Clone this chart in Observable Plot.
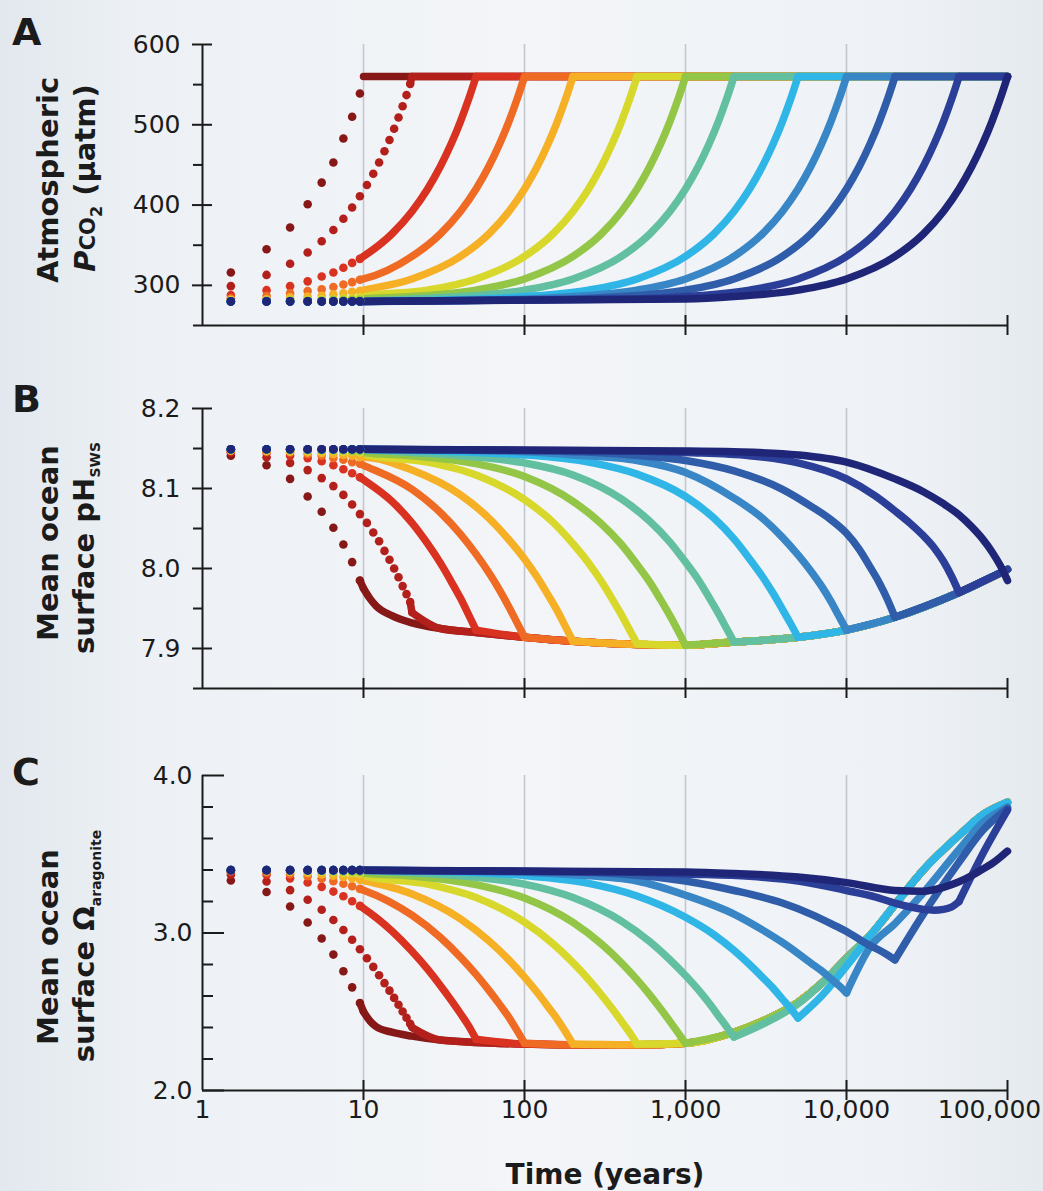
<!DOCTYPE html>
<html>
<head>
<meta charset="utf-8">
<script src="https://cdn.jsdelivr.net/npm/d3@7"></script>
<script src="https://cdn.jsdelivr.net/npm/@observablehq/plot@0.6"></script>
<style>
  body { margin: 0; background: #edf1f5; }
  #chart { position: relative; width: 1043px; height: 1191px;
    background: linear-gradient(90deg, #e2e8ee 0%, #edf1f5 14%, #f3f5f8 50%, #eef2f6 86%, #e5eaef 100%); }
  #chart svg { display: block; }
</style>
</head>
<body>
<div id="chart"></div>
<script>
const _ = null;

// Duration (years) of the CO2 doubling in each run, and its colour
const durations = [10, 20, 50, 100, 200, 500, 1000, 2000, 5000, 10000, 20000, 50000, 100000];
const colors = ["#861817", "#b3201c", "#d93221", "#ef6b24", "#f6b026", "#d8d82c", "#93c646",
                "#62c0a0", "#2fb6e6", "#3886c6", "#2f5da9", "#2b3f99", "#1f2677"];

// Annual sample years drawn as separate dots
const dotYears = [1.5, 2.5, 3.5, 4.5, 5.5, 6.5, 7.5, 8.5, 9.5];
const extraYears = [10.5, 11.5, 12.5, 13.5, 14.5, 15.5, 16.5, 17.5, 18.5, 19.5]; // 20-yr run
// Fractions of each run's duration at which the ramp was read
const fracs = [0.01, 0.02, 0.05, 0.1, 0.2, 0.3, 0.4, 0.5, 0.6, 0.7, 0.8, 0.9, 1.0];
const gridYears = [10, 100, 1000, 10000];

// ---------- Panel A: atmospheric pCO2 (µatm) ----------
const pco2Dots = [
  [316, 345, 372, 401, 428, 453, 483, 510, 539],
  [299, 313, 327, 341, 355, 369, 383, 397, 411],
  [288, 294, 299, 305, 311, 316, 322, 328, 333],
  [284, 287, 290, 293, 295, 298, 301, 304, 307],
  [282, 283, 285, 286, 287, 289, 290, 292, 293],
  [281, 281, 282, 282, 283, 283, 284, 284, 285],
  [280, 281, 281, 281, 281, 282, 282, 282, 282],
  [280, 280, 280, 280, 280, 280, 280, 280, 280],
  [280, 280, 280, 280, 280, 280, 280, 280, 280],
  [280, 280, 280, 280, 280, 280, 280, 280, 280],
  [280, 280, 280, 280, 280, 280, 280, 280, 280],
  [280, 280, 280, 280, 280, 280, 280, 280, 280],
  [280, 280, 280, 280, 280, 280, 280, 280, 280]
];
const pco2Extra = [425, 439, 453, 467, 481, 495, 509, 523, 537, 551];
const pco2Ramp = [
  [_, _, _, _, _, _, _, _, _, _, _, _, 560],
  [_, _, _, _, _, _, _, _, _, _, _, _, 560],
  [_, _, _, _, 336, 364, 392, 420, 448, 476, 504, 532, 560],
  [_, _, _, 308, 336, 364, 392, 420, 448, 476, 504, 532, 560],
  [_, _, 294, 308, 336, 364, 392, 420, 448, 476, 504, 532, 560],
  [_, 286, 294, 308, 336, 364, 392, 420, 448, 476, 504, 532, 560],
  [283, 286, 294, 308, 336, 364, 392, 420, 448, 476, 504, 532, 560],
  [283, 286, 294, 308, 336, 364, 392, 420, 448, 476, 504, 532, 560],
  [283, 286, 294, 308, 336, 364, 392, 420, 448, 476, 504, 532, 560],
  [283, 286, 294, 308, 336, 364, 392, 420, 448, 476, 504, 532, 560],
  [283, 286, 294, 308, 336, 364, 392, 420, 448, 476, 504, 532, 560],
  [283, 286, 294, 308, 336, 364, 392, 420, 448, 476, 504, 532, 560],
  [283, 286, 294, 308, 336, 364, 392, 420, 448, 476, 504, 532, 560]
];
const pco2EnvYears = [100000];
const pco2Env = [560];

// ---------- Panel B: mean ocean surface pH ----------
const phDots = [
  [8.141, 8.129, 8.112, 8.090, 8.071, 8.051, 8.030, 8.008, 7.985],
  [8.145, 8.139, 8.132, 8.123, 8.113, 8.103, 8.092, 8.080, 8.068],
  [8.147, 8.145, 8.141, 8.138, 8.134, 8.129, 8.124, 8.119, 8.114],
  [8.147, 8.146, 8.145, 8.143, 8.141, 8.138, 8.136, 8.133, 8.131],
  [8.148, 8.147, 8.146, 8.145, 8.144, 8.143, 8.142, 8.141, 8.139],
  [8.148, 8.148, 8.148, 8.147, 8.147, 8.147, 8.146, 8.146, 8.145],
  [8.149, 8.149, 8.148, 8.148, 8.148, 8.148, 8.148, 8.147, 8.147],
  [8.149, 8.149, 8.149, 8.149, 8.149, 8.149, 8.149, 8.149, 8.149],
  [8.149, 8.149, 8.149, 8.149, 8.149, 8.149, 8.149, 8.149, 8.149],
  [8.149, 8.149, 8.149, 8.149, 8.149, 8.149, 8.149, 8.149, 8.149],
  [8.149, 8.149, 8.149, 8.149, 8.149, 8.149, 8.149, 8.149, 8.149],
  [8.149, 8.149, 8.149, 8.149, 8.149, 8.149, 8.149, 8.149, 8.149],
  [8.149, 8.149, 8.149, 8.149, 8.149, 8.149, 8.149, 8.149, 8.149]
];
const phExtra = [8.057, 8.045, 8.034, 8.022, 8.011, 8.000, 7.989, 7.978, 7.968, 7.958];
const phRamp = [
  [_, _, _, _, _, _, _, _, _, _, _, _, 7.975],
  [_, _, _, _, _, _, _, _, _, _, _, _, 7.945],
  [_, _, _, _, 8.111, 8.084, 8.057, 8.031, 8.007, 7.984, 7.963, 7.942, 7.923],
  [_, _, _, 8.129, 8.099, 8.070, 8.043, 8.018, 7.995, 7.973, 7.952, 7.932, 7.914],
  [_, _, 8.139, 8.123, 8.092, 8.063, 8.036, 8.012, 7.989, 7.967, 7.947, 7.927, 7.909],
  [_, 8.143, 8.133, 8.117, 8.086, 8.058, 8.031, 8.007, 7.984, 7.962, 7.942, 7.923, 7.906],
  [8.145, 8.141, 8.131, 8.115, 8.084, 8.056, 8.030, 8.005, 7.983, 7.961, 7.941, 7.922, 7.904],
  [8.145, 8.141, 8.132, 8.117, 8.087, 8.059, 8.033, 8.008, 7.986, 7.964, 7.944, 7.925, 7.908],
  [8.145, 8.142, 8.133, 8.118, 8.090, 8.063, 8.037, 8.012, 7.990, 7.969, 7.949, 7.931, 7.914],
  [8.146, 8.142, 8.135, 8.120, 8.088, 8.063, 8.039, 8.017, 7.997, 7.978, 7.959, 7.940, 7.923],
  [8.146, 8.143, 8.135, 8.122, 8.099, 8.078, 8.061, 8.044, 8.024, 8.002, 7.982, 7.961, 7.939],
  [8.147, 8.145, 8.141, 8.132, 8.112, 8.091, 8.072, 8.056, 8.041, 8.026, 8.009, 7.990, 7.970],
  [8.147, 8.146, 8.142, 8.133, 8.112, 8.096, 8.081, 8.067, 8.052, 8.037, 8.021, 8.004, 7.985]
];
const phEnvYears = [11, 12, 15, 20, 30, 50, 100, 200, 500, 1000, 2000, 5000, 10000, 20000, 50000, 100000];
const phEnv = [7.962, 7.953, 7.941, 7.932, 7.925, 7.920, 7.914, 7.909, 7.905, 7.904, 7.908, 7.914, 7.923, 7.939, 7.970, 7.999];

// ---------- Panel C: mean ocean surface aragonite saturation ----------
const omDots = [
  [3.333, 3.260, 3.168, 3.067, 2.965, 2.863, 2.757, 2.655, 2.556],
  [3.370, 3.327, 3.272, 3.211, 3.148, 3.083, 3.019, 2.957, 2.897],
  [3.388, 3.370, 3.347, 3.321, 3.293, 3.263, 3.233, 3.202, 3.172],
  [3.394, 3.385, 3.373, 3.360, 3.345, 3.329, 3.313, 3.297, 3.280],
  [3.397, 3.392, 3.387, 3.380, 3.372, 3.364, 3.356, 3.347, 3.339],
  [3.399, 3.397, 3.395, 3.392, 3.389, 3.386, 3.382, 3.379, 3.375],
  [3.399, 3.398, 3.397, 3.396, 3.394, 3.393, 3.391, 3.389, 3.387],
  [3.399, 3.399, 3.399, 3.399, 3.399, 3.399, 3.399, 3.399, 3.399],
  [3.399, 3.399, 3.399, 3.399, 3.399, 3.399, 3.399, 3.399, 3.399],
  [3.399, 3.399, 3.399, 3.399, 3.399, 3.399, 3.399, 3.399, 3.399],
  [3.399, 3.399, 3.399, 3.399, 3.399, 3.399, 3.399, 3.399, 3.399],
  [3.399, 3.399, 3.399, 3.399, 3.399, 3.399, 3.399, 3.399, 3.399],
  [3.399, 3.399, 3.399, 3.399, 3.399, 3.399, 3.399, 3.399, 3.399]
];
const omExtra = [2.840, 2.785, 2.732, 2.682, 2.634, 2.588, 2.544, 2.502, 2.462, 2.424];
const omRamp = [
  [_, _, _, _, _, _, _, _, _, _, _, _, 2.50],
  [_, _, _, _, _, _, _, _, _, _, _, _, 2.40],
  [_, _, _, _, 3.157, 3.013, 2.884, 2.770, 2.667, 2.574, 2.489, 2.410, 2.325],
  [_, _, _, 3.272, 3.113, 2.972, 2.847, 2.737, 2.637, 2.547, 2.464, 2.380, 2.300],
  [_, _, 3.334, 3.248, 3.090, 2.951, 2.829, 2.720, 2.622, 2.532, 2.452, 2.372, 2.295],
  [_, 3.365, 3.310, 3.225, 3.069, 2.933, 2.812, 2.705, 2.608, 2.520, 2.440, 2.367, 2.295],
  [3.381, 3.362, 3.307, 3.222, 3.067, 2.931, 2.811, 2.704, 2.607, 2.519, 2.439, 2.366, 2.300],
  [3.382, 3.363, 3.310, 3.225, 3.075, 2.945, 2.830, 2.730, 2.640, 2.555, 2.475, 2.405, 2.340],
  [3.383, 3.365, 3.315, 3.235, 3.100, 2.990, 2.890, 2.800, 2.720, 2.650, 2.580, 2.520, 2.460],
  [3.385, 3.370, 3.330, 3.240, 3.120, 3.020, 2.940, 2.870, 2.810, 2.760, 2.710, 2.665, 2.620],
  [3.388, 3.375, 3.330, 3.270, 3.190, 3.120, 3.060, 3.010, 2.960, 2.920, 2.890, 2.860, 2.830],
  [3.386, 3.375, 3.360, 3.330, 3.270, 3.230, 3.190, 3.165, 3.150, 3.145, 3.150, 3.165, 3.200],
  [3.388, 3.378, 3.355, 3.320, 3.270, 3.265, 3.290, 3.325, 3.365, 3.405, 3.440, 3.480, 3.520]
];
const omEnvYears = [11, 12, 15, 20, 30, 50, 100, 200, 500, 1000, 2000, 3000, 5000, 7000, 10000, 15000, 20000, 30000, 50000, 70000, 100000];
const omEnv = [2.44, 2.405, 2.37, 2.345, 2.32, 2.305, 2.295, 2.29, 2.29, 2.30, 2.37, 2.44, 2.56, 2.68, 2.84, 3.02, 3.18, 3.40, 3.62, 3.75, 3.83];
// Runs whose recovery after the ramp departs from the common path: [year, value]
const omRecovery = {
  2000: [[3000, 2.42], [5000, 2.55]],
  5000: [[7000, 2.60], [10000, 2.79]],
  10000: [[14000, 2.91], [20000, 3.06], [28000, 3.22], [50000, 3.53], [70000, 3.70], [100000, 3.80]],
  20000: [[30000, 3.12], [50000, 3.45], [70000, 3.65], [100000, 3.79]],
  50000: [[70000, 3.50], [100000, 3.78]]
};

// ---------- assemble tables ----------
function build(dots, extra, ramp, envYears, env, recovery, detachShort) {
  const dotData = [], lineData = [];
  durations.forEach((D, i) => {
    dotYears.forEach((t, j) => dotData.push({series: D, t, v: dots[i][j]}));
    let lastT = dotYears[dotYears.length - 1], lastV = dots[i][dots[i].length - 1];
    if (D === 20) {
      extraYears.forEach((t, j) => dotData.push({series: D, t, v: extra[j]}));
      lastT = extraYears[extraYears.length - 1]; lastV = extra[extra.length - 1];
    }
    // rising/falling part during the ramp
    const rampPts = [{t: lastT, v: lastV}];
    fracs.forEach((f, j) => {
      const t = f * D;
      if (ramp[i][j] != null && t > lastT + 1e-9) rampPts.push({t, v: ramp[i][j]});
    });
    // part after the ramp ends
    const end = rampPts[rampPts.length - 1];
    const postPts = [end];
    const rec = (recovery && recovery[D]) || [];
    rec.forEach(([t, v]) => postPts.push({t, v}));
    const after = rec.length ? rec[rec.length - 1][0] : D;
    envYears.forEach((t, j) => { if (t > after + 1e-9) postPts.push({t, v: env[j]}); });
    const skipRamp = detachShort && rampPts.length === 2 && D === 10;
    if (!skipRamp) rampPts.forEach(p => lineData.push({series: D, part: D + "-ramp", t: p.t, v: p.v}));
    if (postPts.length > 1) postPts.forEach(p => lineData.push({series: D, part: D + "-post", t: p.t, v: p.v}));
  });
  return {dotData, lineData};
}

const A = build(pco2Dots, pco2Extra, pco2Ramp, pco2EnvYears, pco2Env, null, true);
const B = build(phDots, phExtra, phRamp, phEnvYears, phEnv, null, false);
const C = build(omDots, omExtra, omRamp, omEnvYears, omEnv, omRecovery, false);

const FONT = "DejaVu Sans";
const INK = "#1b1b1b";

function panel({data, height, marginTop, marginBottom, yDomain, majors, minors, fmt, inward, labels}) {
  const axisMarks = [];
  if (inward) {
    axisMarks.push(Plot.axisY(majors, {tickSize: 22, dx: 22, tickPadding: 10, tickFormat: fmt, fontSize: 25, strokeWidth: 2, label: null}));
    axisMarks.push(Plot.axisY(minors, {tickSize: 11, dx: 11, tickFormat: () => "", strokeWidth: 2, label: null}));
  } else {
    axisMarks.push(Plot.axisY(majors, {tickSize: 20, dx: 10, tickPadding: 12, tickFormat: fmt, fontSize: 25, strokeWidth: 2, label: null}));
    axisMarks.push(Plot.axisY(minors, {tickSize: 9, tickFormat: () => "", strokeWidth: 2, label: null}));
  }
  axisMarks.push(Plot.axisX([10, 100, 1000, 10000, 100000], {tickSize: 20, dy: -10, tickFormat: () => "", strokeWidth: 2, label: null}));
  if (labels) {
    axisMarks.push(Plot.axisX([1, 10, 100, 1000, 10000], {tickSize: 0, tickPadding: 10, tickFormat: d3.format(","), fontSize: 25, label: null}));
    axisMarks.push(Plot.axisX([100000], {tickSize: 0, tickPadding: 10, dx: -18, tickFormat: d3.format(","), fontSize: 25, label: null}));
  }
  return Plot.plot({
    width: 1043, height, marginLeft: 202, marginRight: 36, marginTop, marginBottom,
    style: {background: "transparent", fontFamily: FONT, fontSize: "25px", color: INK},
    x: {type: "log", domain: [1, 100000]},
    y: {domain: yDomain},
    color: {type: "ordinal", domain: durations, range: colors},
    marks: [
      Plot.ruleX(gridYears, {stroke: "#c3c8cf", strokeWidth: 1.6}),
      Plot.line(data.lineData, {x: "t", y: "v", z: "part", stroke: "series", strokeWidth: 7.5,
        curve: "monotone-x", strokeLinecap: "round", strokeLinejoin: "round"}),
      Plot.dot(data.dotData, {x: "t", y: "v", fill: "series", r: 4.3}),
      Plot.ruleX([1], {stroke: INK, strokeWidth: 2}),
      Plot.ruleY([yDomain[0]], {stroke: INK, strokeWidth: 2}),
      ...axisMarks
    ]
  });
}

function addText(svg, {x, y, rotate = false, size, weight = "bold", anchor = "middle", parts}) {
  const t = d3.select(svg).append("text")
    .attr("transform", `translate(${x},${y})` + (rotate ? " rotate(-90)" : ""))
    .attr("text-anchor", anchor).attr("font-family", FONT)
    .attr("font-size", size).attr("font-weight", weight).attr("fill", INK);
  parts.forEach(p => {
    const s = t.append("tspan").text(p.text);
    if (p.size) s.attr("font-size", p.size);
    if (p.dy) s.attr("dy", p.dy);
    if (p.italic) s.attr("font-style", "italic");
  });
}

const chart = document.getElementById("chart");

const svgA = panel({data: A, height: 345, marginTop: 44, marginBottom: 20, yDomain: [250, 600],
  majors: [300, 400, 500, 600], minors: [250, 350, 450, 550], fmt: d => String(d)});
addText(svgA, {x: 12, y: 45, size: 38, anchor: "start", parts: [{text: "A"}]});
addText(svgA, {x: 58, y: 180, rotate: true, size: 29, parts: [{text: "Atmospheric"}]});
addText(svgA, {x: 95, y: 178, rotate: true, size: 29, parts: [
  {text: "P", italic: true}, {text: "CO", size: 21}, {text: "2", size: 16, dy: 7}, {text: " (µatm)", dy: -7}]});
chart.appendChild(svgA);

const svgB = panel({data: B, height: 365, marginTop: 63, marginBottom: 22, yDomain: [7.85, 8.2],
  majors: [7.9, 8.0, 8.1, 8.2], minors: [7.85, 7.95, 8.05, 8.15], fmt: d3.format(".1f")});
addText(svgB, {x: 12, y: 67, size: 38, anchor: "start", parts: [{text: "B"}]});
addText(svgB, {x: 58, y: 198, rotate: true, size: 29, parts: [{text: "Mean ocean"}]});
addText(svgB, {x: 94, y: 203, rotate: true, size: 29, parts: [
  {text: "surface pH"}, {text: "SWS", size: 14, dy: 6}]});
chart.appendChild(svgB);

const svgC = panel({data: C, height: 481, marginTop: 65, marginBottom: 101, yDomain: [2.0, 4.0],
  majors: [2.0, 3.0, 4.0], minors: [2.2, 2.4, 2.6, 2.8, 3.2, 3.4, 3.6, 3.8], fmt: d3.format(".1f"),
  inward: true, labels: true});
addText(svgC, {x: 12, y: 75, size: 38, anchor: "start", parts: [{text: "C"}]});
addText(svgC, {x: 58, y: 237, rotate: true, size: 29, parts: [{text: "Mean ocean"}]});
addText(svgC, {x: 94, y: 236, rotate: true, size: 29, parts: [
  {text: "surface Ω"}, {text: "aragonite", size: 14, dy: 7}]});
addText(svgC, {x: 605, y: 474, size: 28, parts: [{text: "Time (years)"}]});
chart.appendChild(svgC);
</script>
</body>
</html>
